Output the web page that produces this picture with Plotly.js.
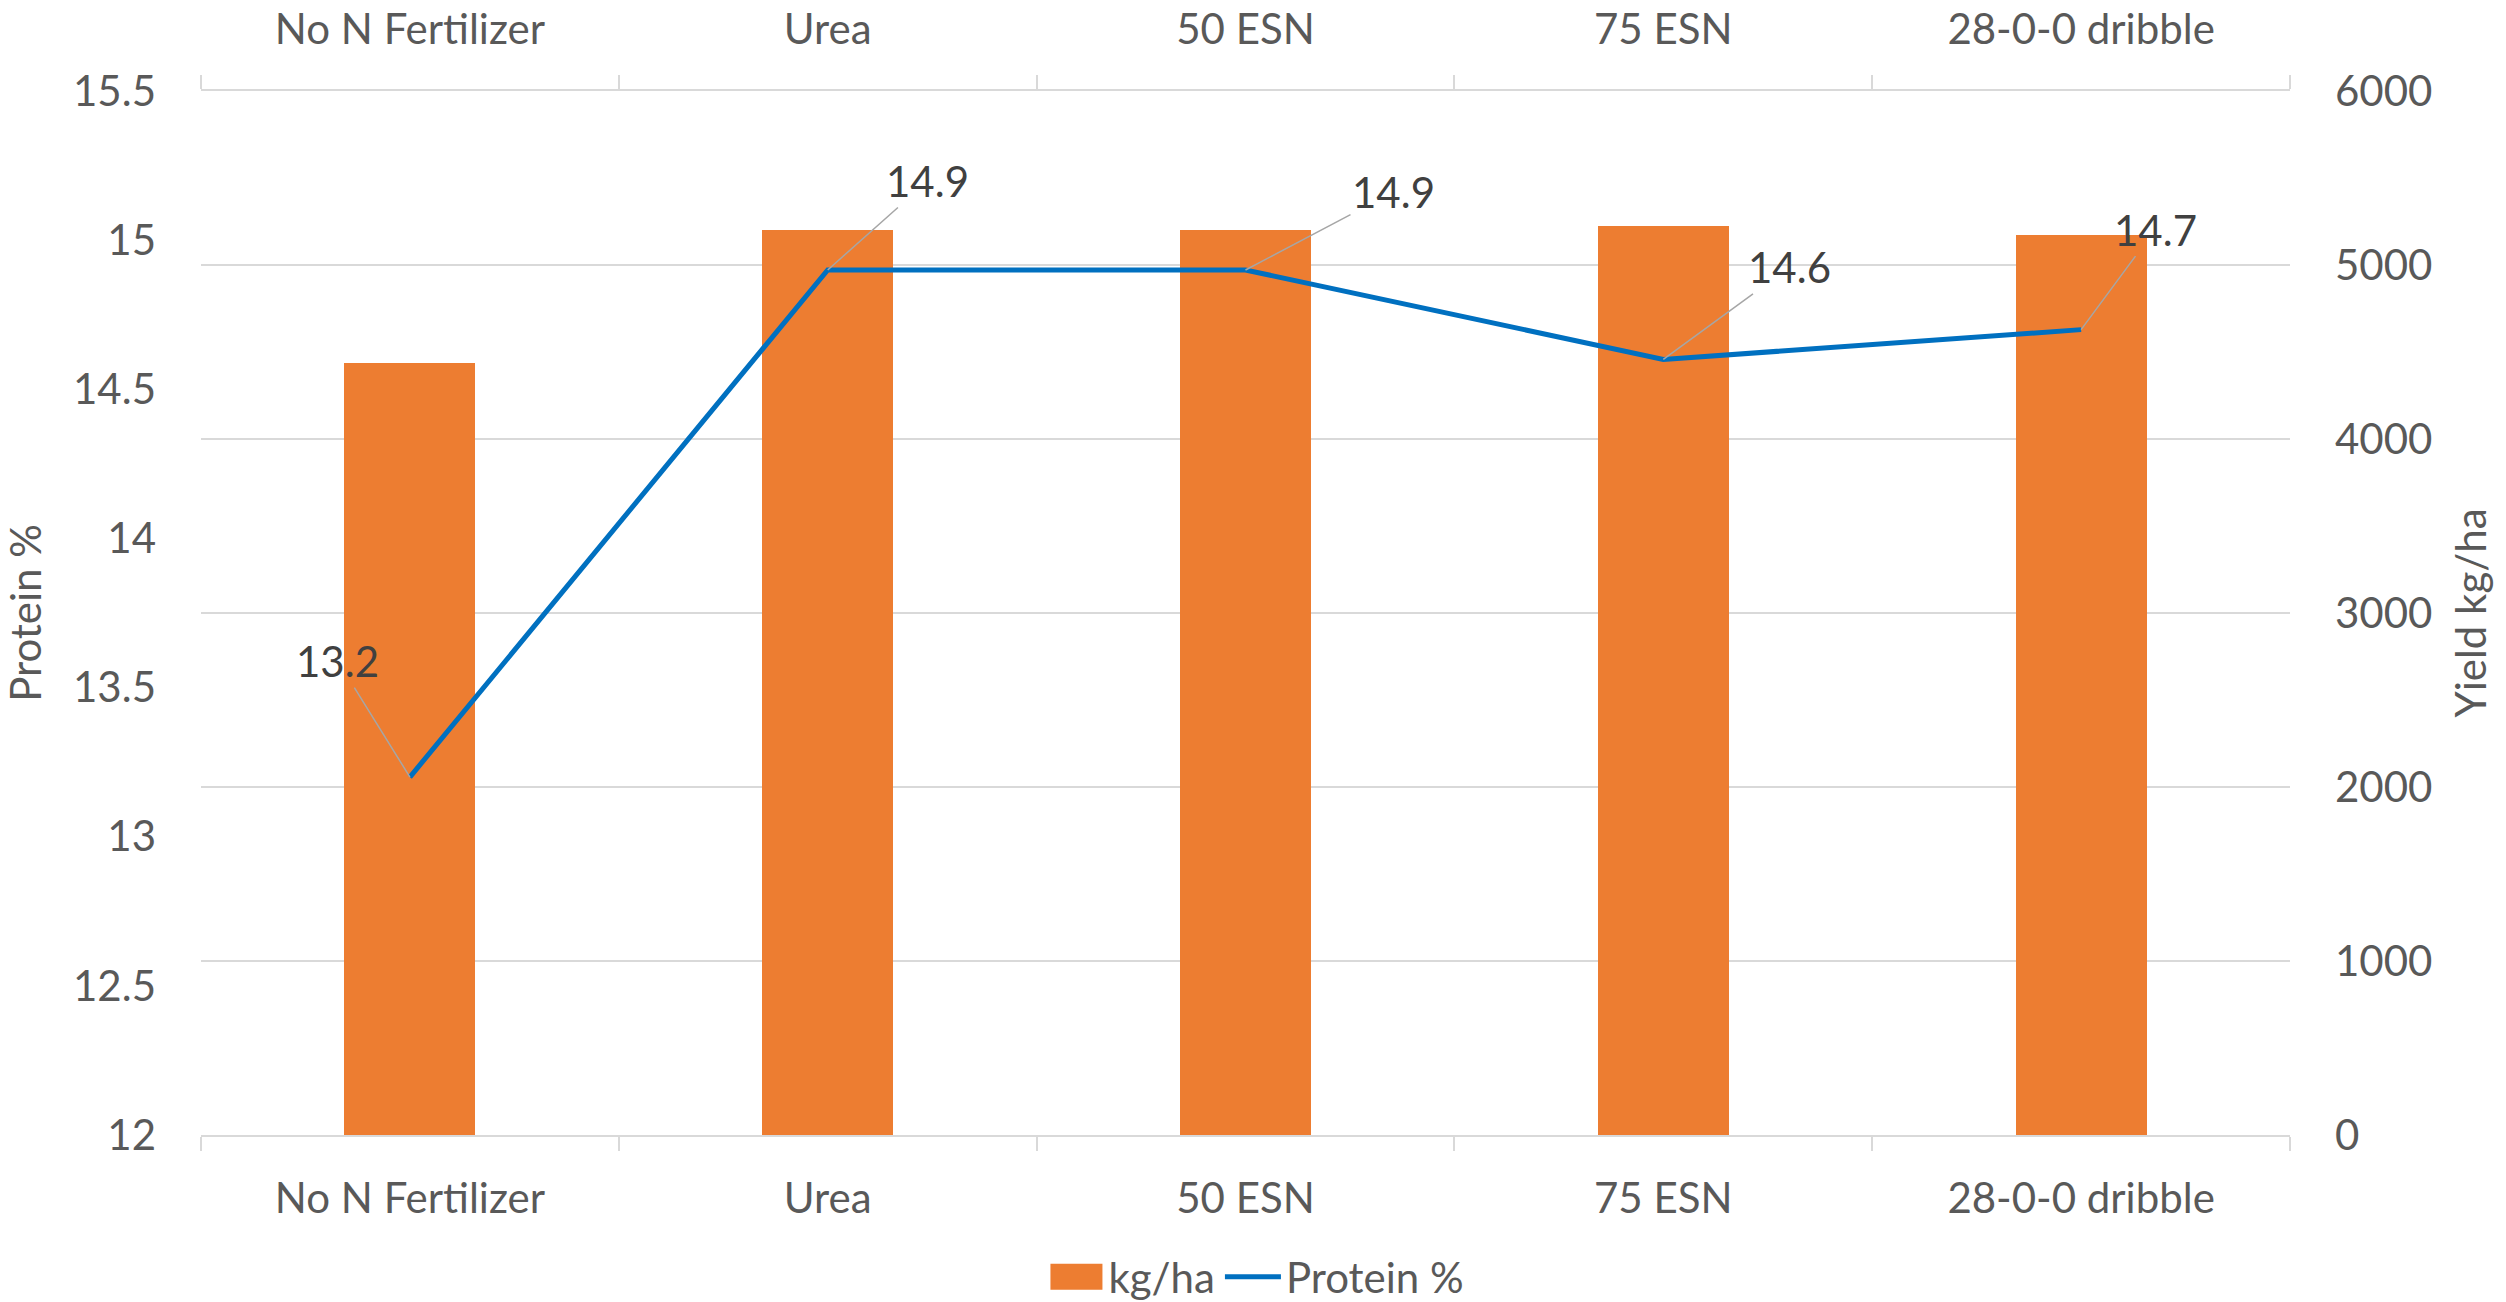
<!DOCTYPE html>
<html>
<head>
<meta charset="utf-8">
<script src="https://cdn.plot.ly/plotly-3.0.1.min.js"></script>
<style>
html,body{margin:0;padding:0;background:#fff;}
#chart{width:2506px;height:1302px;}
</style>
</head>
<body>
<div id="chart"></div>
<script>
// ---- data ----
const categories = ["No N Fertilizer", "Urea", "50 ESN", "75 ESN", "28-0-0 dribble"];
const yieldKgHa = [4436, 5201, 5201, 5224, 5172];
const proteinPct = [13.2, 14.9, 14.9, 14.6, 14.7];
const leftTicks = [12, 12.5, 13, 13.5, 14, 14.5, 15, 15.5];
const rightTicks = [0, 1000, 2000, 3000, 4000, 5000, 6000];

// label offsets (pixels) for the protein data labels
const labelOffsets = [[-72, -116], [100, -89], [148, -78], [126, -92], [74, -100]];

const FONT = "Lato, 'Open Sans', sans-serif";
const TICKCOL = "#595959";
const GRID = "#d9d9d9";
const FS = 42;

const traces = [
  {
    type: "bar",
    name: "kg/ha",
    x: categories,
    y: yieldKgHa,
    xaxis: "x",
    yaxis: "y",
    width: 0.314,
    marker: {color: "#ed7d31", line: {width: 0}},
    hoverinfo: "skip"
  },
  {
    type: "scatter",
    mode: "lines",
    name: "Protein %",
    x: categories,
    y: proteinPct,
    xaxis: "x2",
    yaxis: "y2",
    line: {color: "#0070c0", width: 5},
    hoverinfo: "skip"
  }
];

const annotations = categories.map((c, i) => ({
  x: c, y: proteinPct[i], xref: "x2", yref: "y2",
  text: proteinPct[i].toFixed(1),
  showarrow: true, arrowhead: 0, arrowwidth: 1.5, arrowcolor: "#a6a6a6",
  ax: labelOffsets[i][0], ay: labelOffsets[i][1],
  font: {family: FONT, size: FS, color: "#404040"},
  standoff: 0
}));

const layout = {
  width: 2506, height: 1302,
  paper_bgcolor: "#ffffff", plot_bgcolor: "#ffffff",
  margin: {l: 201, r: 216, t: 91, b: 167, autoexpand: false},
  font: {family: FONT, size: FS, color: TICKCOL},
  showlegend: true,
  bargap: 0,
  legend: {
    orientation: "h", x: 0.505, xref: "paper", xanchor: "center",
    y: -0.136, yanchor: "middle",
    font: {family: FONT, size: FS, color: TICKCOL},
    itemwidth: 56, tracegroupgap: 0
  },
  xaxis: {
    type: "category", categoryorder: "array", categoryarray: categories,
    range: [-0.5, 4.5],
    showline: true, linecolor: GRID, linewidth: 2,
    ticks: "outside", tickson: "boundaries", ticklen: 14, tickcolor: GRID, tickwidth: 2,
    showgrid: false, zeroline: false,
    tickfont: {family: FONT, size: FS, color: TICKCOL},
    ticklabelstandoff: 26
  },
  xaxis2: {
    type: "category", categoryorder: "array", categoryarray: categories,
    overlaying: "x", side: "top", anchor: "y2",
    range: [-0.5, 4.5],
    showline: true, linecolor: GRID, linewidth: 2,
    ticks: "outside", tickson: "boundaries", ticklen: 14, tickcolor: GRID, tickwidth: 2,
    showgrid: false, zeroline: false,
    tickfont: {family: FONT, size: FS, color: TICKCOL},
    ticklabelstandoff: 28
  },
  yaxis: {
    side: "right",
    range: [0, 6000],
    tickmode: "array", tickvals: rightTicks, ticktext: rightTicks.map(String),
    showgrid: true, gridcolor: GRID, gridwidth: 2,
    showline: false, zeroline: false, ticks: "",
    tickfont: {family: FONT, size: FS, color: TICKCOL},
    ticklabelstandoff: 44,
    title: {text: "Yield kg/ha", font: {family: FONT, size: FS, color: TICKCOL}, standoff: 25}
  },
  yaxis2: {
    side: "left", overlaying: "y", anchor: "x2",
    range: [12, 15.5],
    tickmode: "array", tickvals: leftTicks, ticktext: leftTicks.map(String),
    showgrid: false, showline: false, zeroline: false, ticks: "",
    tickfont: {family: FONT, size: FS, color: TICKCOL},
    ticklabelstandoff: 44,
    title: {text: "Protein %", font: {family: FONT, size: FS, color: TICKCOL}, standoff: 19}
  },
  annotations: annotations,
  hovermode: false
};

function enlargeSwatch() {
  // enlarge the bar legend swatch to resemble the original rectangle
  document.querySelectorAll("#chart .legend .traces").forEach(tr => {
    const txt = tr.querySelector("text.legendtext");
    if (txt && txt.textContent === "kg/ha") {
      tr.querySelectorAll(".legendpoints path").forEach(p => {
        p.setAttribute("d", "M-26,-13H26V13H-26Z");
        p.setAttribute("transform", "translate(34,0)");
      });
    }
  });
}

Plotly.newPlot("chart", traces, layout, {displayModeBar: false, staticPlot: true}).then(gd => {
  enlargeSwatch();
  gd.on && gd.on("plotly_afterplot", enlargeSwatch);
  setTimeout(enlargeSwatch, 50);
  setTimeout(enlargeSwatch, 400);
});
</script>
</body>
</html>
